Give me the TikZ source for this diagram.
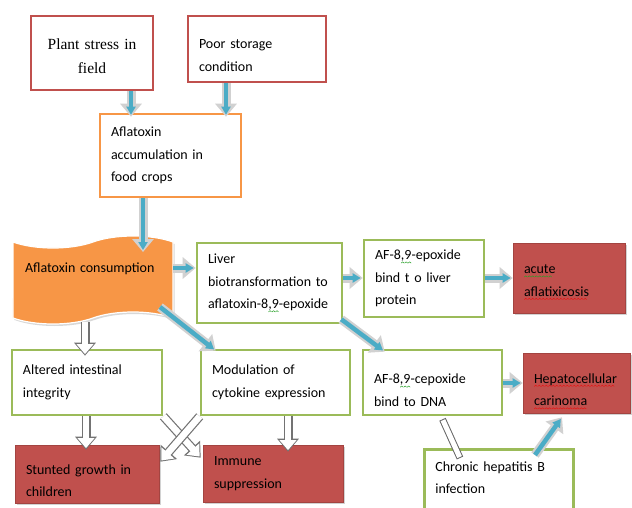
\documentclass[tikz,border=0pt]{standalone}
\usepackage{fontspec}
\setmainfont{Carlito}
\newfontfamily\stressfont{Liberation Serif}
\usetikzlibrary{arrows.meta,calc,positioning,shapes.symbols,shadows}
\definecolor{boxred}{RGB}{192,80,77}
\definecolor{boxgreen}{RGB}{155,187,89}
\definecolor{boxorange}{RGB}{247,150,70}
\definecolor{flowblue}{RGB}{75,172,198}
\definecolor{spellred}{RGB}{230,20,20}
\definecolor{spellgreen}{RGB}{40,160,40}
\newlength\spellwidth
\newcommand\spellseg[1]{\begin{pgfpicture}\pgfsetlinewidth{0.5pt}\pgfsetstrokecolor{#1}\pgfpathmoveto{\pgfpoint{0pt}{0pt}}\pgfpathlineto{\pgfpoint{1.5pt}{1.2pt}}\pgfpathlineto{\pgfpoint{3pt}{0pt}}\pgfusepath{stroke}\end{pgfpicture}}
\newcommand\spellwave[2]{\leavevmode\settowidth\spellwidth{#2}\rlap{\raisebox{-3.6pt}{\leaders\hbox{\spellseg{#1}}\hskip\spellwidth}}#2}
\tikzset{
  box/.style={rectangle,line width=2.6pt,fill=white,align=left,inner xsep=11pt,inner ysep=4pt,font={\fontsize{14}{22.5}\selectfont}},
  causebox/.style={box,draw=boxred},
  cropbox/.style={box,draw=boxorange},
  stepbox/.style={box,draw=boxgreen},
  harmbox/.style={box,fill=boxred,draw=boxred!85!black,line width=0.6pt,drop shadow={shadow xshift=2pt,shadow yshift=-2pt,fill=black!35}},
  flow/.style={line width=9pt,draw=black!18,-{Triangle[length=13pt,width=21pt]},postaction={draw=flowblue,line width=4.5pt,-{Triangle[length=8pt,width=9pt]},shorten >=2pt}},
  hollow/.style={line width=9pt,draw=black!55,-{Triangle[length=13pt,width=21pt]},postaction={draw=white,line width=6.6pt,-{Triangle[length=10pt,width=16.5pt]},shorten >=1.6pt}},
  hollowbar/.style={line width=7pt,draw=black!60,postaction={draw=white,line width=5pt,shorten >=1pt,shorten <=1pt}}
}
\begin{document}
\begin{tikzpicture}[x=1pt,y=-1pt]
\useasboundingbox[fill=white] (0,0) rectangle (632,508);
\node[causebox,align=center,minimum width=122pt,minimum height=74pt,text width=100pt,text depth=18pt,font={\stressfont\fontsize{15.5}{24}\selectfont}] (stress) at (92,53) {Plant stress in\\field};
\node[causebox,minimum width=138pt,minimum height=66pt,text width=116pt,text depth=9.5pt] (storage) at (257,49) {Poor storage\\condition};
\node[cropbox,minimum width=141pt,minimum height=83pt,text width=119pt] (accum) at (170.5,155.5) {Aflatoxin\\accumulation in\\food crops};
\node[tape,fill=boxorange,draw=white,line width=1.2pt,tape bend height=12pt,minimum width=160pt,minimum height=88pt,text width=136pt,inner xsep=12pt,text depth=24pt,font={\fontsize{14}{22.5}\selectfont},drop shadow={shadow xshift=1.5pt,shadow yshift=-2pt,fill=black!30}] (consume) at (93,280) {Aflatoxin consumption};
\node[stepbox,minimum width=145pt,minimum height=80pt,text width=123pt] (liver) at (269.5,283) {Liver\\biotransformation to\\aflatoxin-8\spellwave{spellgreen}{,9}-epoxide};
\node[stepbox,minimum width=120pt,minimum height=77pt,text width=98pt] (protein) at (424,278.5) {AF-8\spellwave{spellgreen}{,9}-epoxide\\bind t o liver\\protein};
\node[harmbox,minimum width=112pt,minimum height=70pt,text width=90pt,text depth=17.5pt] (acute) at (569,278) {\spellwave{spellgreen}{acute}\\\spellwave{spellred}{aflatixicosis}};
\node[stepbox,minimum width=150pt,minimum height=65pt,text width=128pt] (altered) at (87,382.5) {Altered intestinal\\integrity};
\node[stepbox,minimum width=149pt,minimum height=65pt,text width=127pt] (modul) at (275.5,382.5) {Modulation of\\cytokine expression};
\node[stepbox,minimum width=139pt,minimum height=65pt,text width=117pt,text depth=7pt] (dna) at (432.5,382.5) {AF-8\spellwave{spellgreen}{,9}-cepoxide\\bind to DNA};
\node[harmbox,minimum width=107pt,minimum height=60pt,text width=85pt,text depth=9.5pt] (hepato) at (576.5,383) {\spellwave{spellred}{Hepatocellular}\\\spellwave{spellred}{carinoma}};
\node[harmbox,minimum width=144pt,minimum height=58pt,text width=122pt,text depth=9.5pt] (stunted) at (87,474) {Stunted growth in\\children};
\node[harmbox,minimum width=140pt,minimum height=57pt,text width=118pt] (immune) at (273,473.5) {Immune\\suppression};
\node[stepbox,anchor=north west,inner ysep=12pt,minimum width=149pt,text width=127pt,text depth=48pt] (chronic) at (423,448) {Chronic hepatitis B\\infection};

\draw[flow] ([xshift=39pt]stress.south) -- ([xshift=-39.5pt,yshift=-4pt]accum.north);
\draw[flow] ([xshift=-31pt]storage.south) -- ([xshift=55.5pt,yshift=-4pt]accum.north);
\draw[flow] ([xshift=-27.5pt]accum.south) -- ([xshift=50pt,yshift=28pt]consume.center);
\draw[flow] ([xshift=80pt,yshift=12pt]consume.center) -- ([yshift=15pt]liver.west);
\draw[flow] ([yshift=5pt]liver.east) -- ([yshift=0.5pt]protein.west);
\draw[flow] ([yshift=0.5pt]protein.east) -- (acute.west);
\draw[flow] ([xshift=67pt,yshift=-27pt]consume.center) -- ([xshift=16pt,yshift=-2pt]modul.north west);
\draw[flow] ([xshift=-2pt,yshift=5pt]liver.south east) -- ([xshift=23pt,yshift=-3pt]dna.north west);
\draw[flow] ([yshift=-0.5pt]dna.east) -- (hepato.west);
\draw[flow] ([xshift=112pt,yshift=-7pt]chronic.north west) -- ([xshift=-14.5pt,yshift=-4pt]hepato.south);

\draw[hollow] ([xshift=-8pt,yshift=-42pt]consume.center) -- ([xshift=-2pt,yshift=-7pt]altered.north);
\draw[hollow] ([xshift=-1pt]altered.south) -- ([xshift=-1pt,yshift=-5pt]stunted.north);
\draw[hollow] ([xshift=12.5pt]modul.south) -- ([xshift=15pt,yshift=-7pt]immune.north);
\draw[hollow] (altered.south east) -- ([xshift=-2pt,yshift=-13pt]immune.north west);
\draw[hollow] (modul.south west) -- ([xshift=1pt,yshift=-17pt]stunted.north east);
\draw[hollowbar] ([xshift=10pt,yshift=-3pt]dna.south) -- ([xshift=37pt,yshift=-10pt]chronic.north west);
\end{tikzpicture}
\end{document}
